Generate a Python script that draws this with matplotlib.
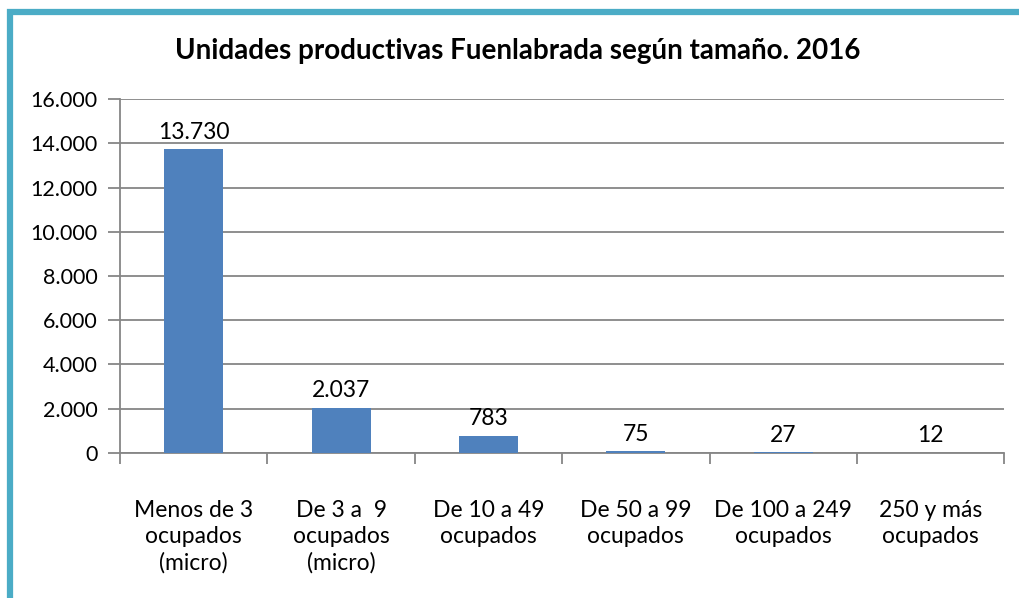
import numpy as np
import matplotlib.pyplot as plt
from matplotlib.ticker import FuncFormatter
from matplotlib.patches import Rectangle

# Datos
categorias = ["Menos de 3\nocupados\n(micro)", "De 3 a  9\nocupados\n(micro)", "De 10 a 49\nocupados",
              "De 50 a 99\nocupados", "De 100 a 249\nocupados", "250 y más\nocupados"]
valores = [13730, 2037, 783, 75, 27, 12]
titulo = "Unidades productivas Fuenlabrada según tamaño. 2016"

def miles(v):
    return f"{int(v):,}".replace(",", ".")

plt.rcParams['font.family'] = ['Lato', 'DejaVu Sans']

fig = plt.figure(figsize=(10.2, 5.98), dpi=100)
ax = fig.add_axes([0.1176, 0.2425, 0.867, 0.5919])

# marco exterior
fig.patches.append(Rectangle((0.010, -0.05), 1.2, 1.03, transform=fig.transFigure,
                             fill=False, edgecolor='#4BACC6', linewidth=4.5))

gris = '#868686'
x = np.arange(len(valores))
ax.bar(x, valores, width=0.4, color='#4F81BD', zorder=3)
for xi, v in zip(x, valores):
    ax.text(xi, v + 300, miles(v), ha='center', va='bottom', fontsize=16.5)

ax.set_xlim(-0.5, len(valores) - 0.5)
ax.set_ylim(0, 16000)
ax.set_yticks(np.arange(0, 16001, 2000))
ax.yaxis.set_major_formatter(FuncFormatter(lambda v, p: miles(v)))
ax.grid(axis='y', color=gris, linewidth=1.3, zorder=0)

ax.set_xticks(np.arange(-0.5, len(valores), 1))
ax.set_xticklabels([])
ax.set_xticks(x, minor=True)
ax.set_xticklabels(categorias, minor=True, fontsize=16.5, linespacing=1.3)
ax.tick_params(axis='x', which='major', length=8, width=1.3, color=gris, direction='out')
ax.tick_params(axis='x', which='minor', length=0, pad=34)
ax.tick_params(axis='y', length=9, width=1.3, color=gris, labelsize=15.5, pad=7)

for s in ['top', 'right']:
    ax.spines[s].set_visible(False)
for s in ['left', 'bottom']:
    ax.spines[s].set_color(gris)
    ax.spines[s].set_linewidth(1.3)

fig.text(0.508, 0.915, titulo, ha='center', va='center', fontsize=20, fontweight='bold')

fig.savefig('out.png', dpi=100)
